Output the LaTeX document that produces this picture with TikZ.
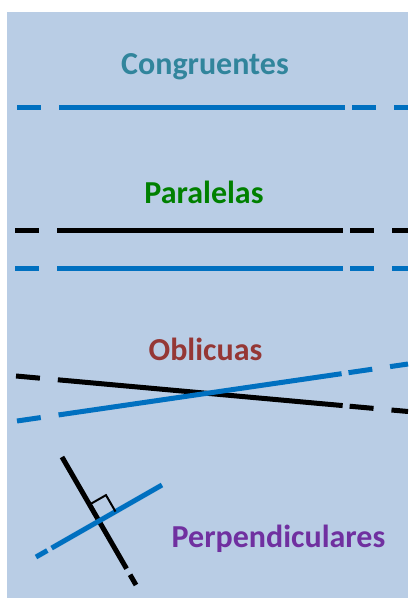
\documentclass[tikz,border=0pt]{standalone}
\usepackage{fontspec}
\usetikzlibrary{calc}
\setmainfont{Carlito}
\definecolor{bgblue}{HTML}{B9CDE5}
\definecolor{lineblue}{HTML}{0070C0}
\definecolor{teal}{HTML}{31859C}
\definecolor{grn}{HTML}{008000}
\definecolor{dred}{HTML}{953735}
\definecolor{purp}{HTML}{7030A0}
\tikzset{
  title/.style={anchor=base, font=\fontsize{32}{36}\selectfont\bfseries, inner sep=0pt},
  stroke/.style={line width=5pt},
  hdash/.style={stroke, dash pattern=on 24pt off 18pt on 286pt off 7pt on 24pt off 18pt on 30pt},
}
\begin{document}
\begin{tikzpicture}[x=1pt,y=-1pt]
\useasboundingbox (0,0) rectangle (408,598);
\fill[white] (0,0) rectangle (408,598);
\fill[bgblue] (7,12) rectangle (408,598);

% Congruentes
\node[title, text=teal] (tc) at (205,74) {Congruentes};
\coordinate (c1) at (17,107);
\coordinate (c2) at (408,107);
\draw[hdash, lineblue] (c1) -- (c2);

% Paralelas
\node[title, text=grn] (tp) at (204,203) {Paralelas};
\coordinate (p1) at (15,230);
\coordinate (p2) at (408,230);
\coordinate (p3) at (15,268);
\coordinate (p4) at (408,268);
\draw[hdash, black] (p1) -- (p2);
\draw[hdash, lineblue] (p3) -- (p4);

% Oblicuas
\node[title, text=dred] (to) at (205.5,360) {Oblicuas};
\coordinate (o1) at (16,376);
\coordinate (o2) at (408,411.5);
\coordinate (o3) at (17,421);
\coordinate (o4) at (408,364);
\draw[hdash, black] (o1) -- (o2);
\draw[hdash, lineblue] (o3) -- (o4);

% Perpendiculares
\node[title, text=purp] (tq) at (278.5,547) {Perpendiculares};
\coordinate (k1) at (62,457);
\coordinate (k2) at (136,585);
\coordinate (b1) at (36,557);
\coordinate (b2) at (162,485);
\draw[stroke, black, dash pattern=on 129pt off 7pt on 20pt] (k1) -- (k2);
\draw[stroke, lineblue, dash pattern=on 13pt off 5pt on 200pt] (b1) -- (b2);
\coordinate (x) at (99,521);
\coordinate (sq1) at ($(x)!19pt!(k1)$);
\coordinate (sq3) at ($(x)!19pt!(b2)$);
\coordinate (sq2) at ($(sq1)+(sq3)-(x)$);
\draw[line width=2pt, black] (sq1) -- (sq2) -- (sq3);
\end{tikzpicture}
\end{document}
